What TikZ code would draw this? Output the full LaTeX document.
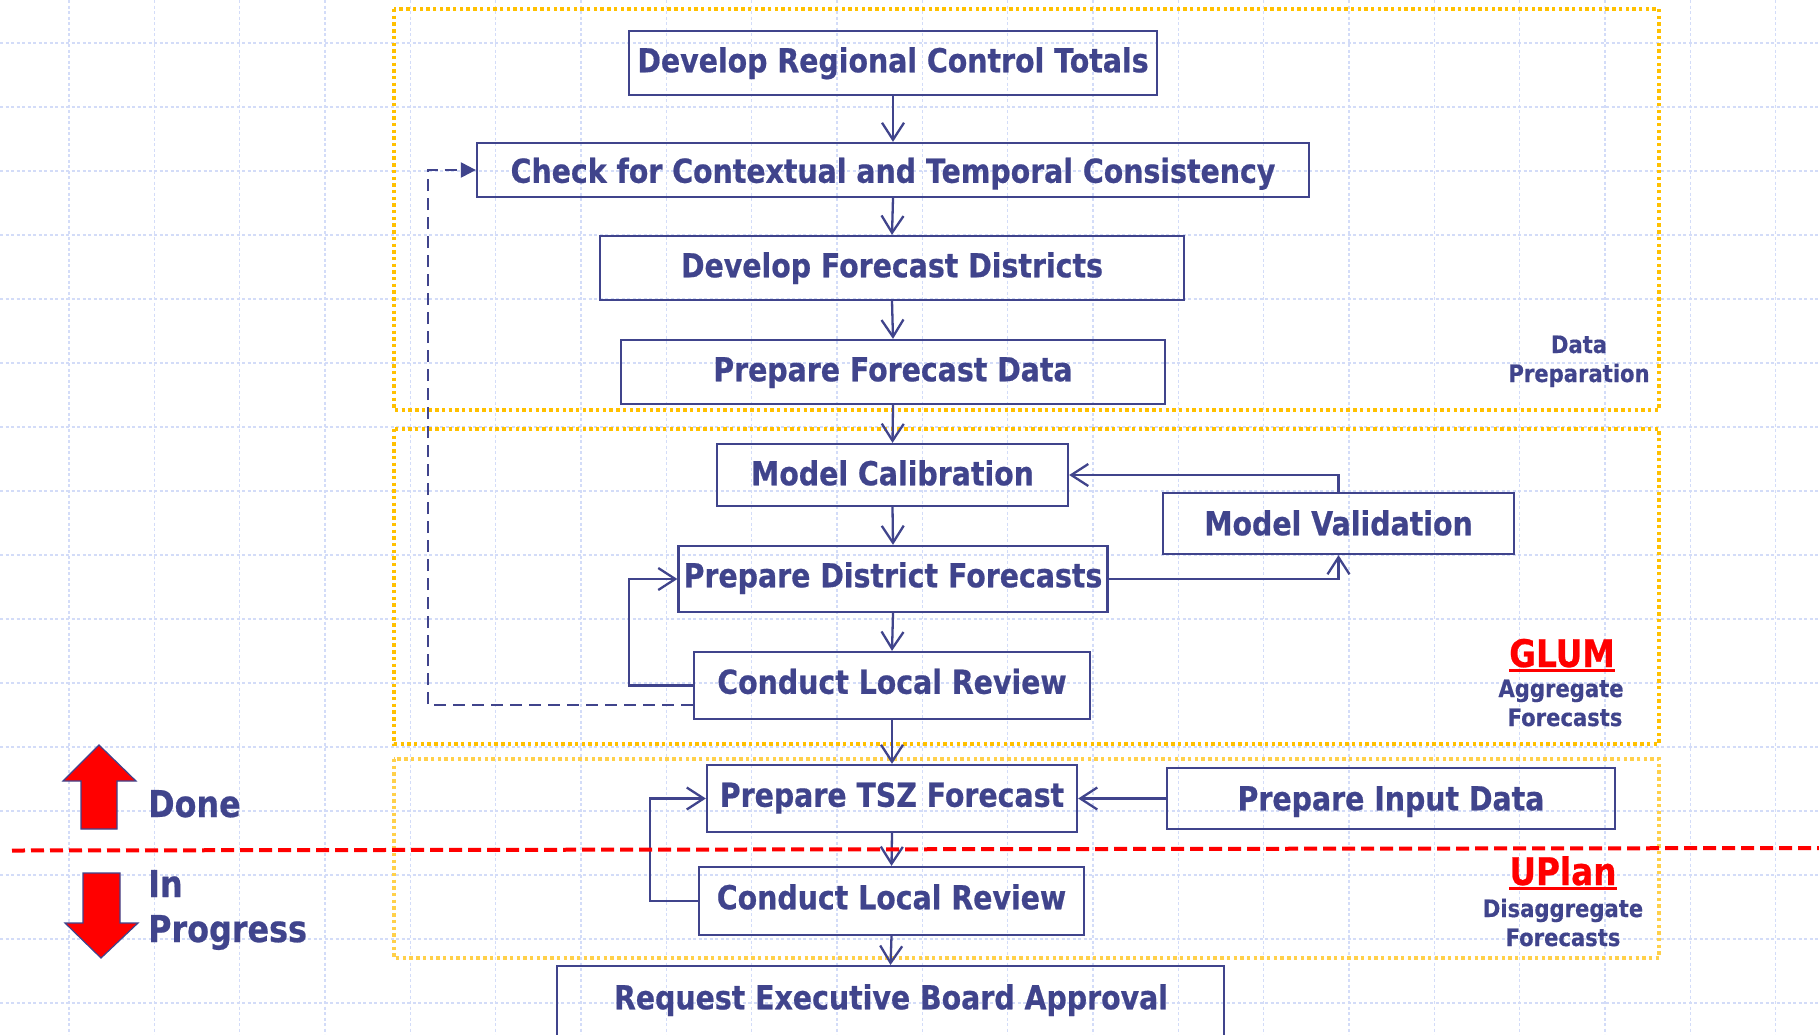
\documentclass[tikz,border=0pt]{standalone}
\usepackage{fontspec}
\newfontfamily\tah{DejaVu Sans}[FakeStretch=0.86, FakeBold=0.6]
\newfontfamily\tahs{DejaVu Sans}[FakeStretch=0.88, FakeBold=0.4]
\usetikzlibrary{arrows.meta,calc}
\definecolor{ink}{HTML}{40448C}
\definecolor{gridc}{HTML}{D3DCF8}
\definecolor{gold}{HTML}{FFC000}
\definecolor{goldl}{HTML}{FFD04A}
\definecolor{redc}{HTML}{FF0000}
\tikzset{
  box/.style={draw=ink, line width=2.3, inner sep=0, text=ink, text height=24, text depth=7.5,
    font=\tah\bfseries\fontsize{33}{39}\selectfont},
  flow/.style={draw=ink, line width=2.3, -{Straight Barb[length=17,width=22]}},
  dflow/.style={draw=ink, line width=2.3, dash pattern=on 12 off 7, -{Triangle[length=15,width=15]}},
  lab/.style={text=ink, inner sep=0, font=\tahs\bfseries\fontsize{24}{29}\selectfont},
  biglab/.style={text=ink, inner sep=0, font=\tah\bfseries\fontsize{37}{45}\selectfont},
  redlab/.style={text=redc, inner sep=0, font=\tah\bfseries\fontsize{38}{44}\selectfont},
  gridline/.style={draw=gridc, line width=1.2, dash pattern=on 3 off 2.5},
  group/.style={draw=gold, line width=3.6, dash pattern=on 3.4 off 3.3},
  bigarrow/.style={fill=redc, draw=ink, line width=1.2, line join=miter},
}
\begin{document}
\begin{tikzpicture}[x=1pt,y=-1pt]
\useasboundingbox (0,0) rectangle (1819,1034);
\fill[white] (0,0) rectangle (1819,1034);
% background grid
\foreach \k in {0,...,20} {\draw[gridline] ({69+85.33*\k},0) -- ({69+85.33*\k},1034);}
\foreach \k in {0,...,15} {\draw[gridline] (0,{43+64*\k}) -- (1819,{43+64*\k});}
% group frames
\draw[group] (394,9) rectangle (1659,410);
\draw[group] (394,429) rectangle (1659,744);
\draw[group, draw=goldl] (394,759) rectangle (1659,958);
% boxes
\node[box, text height=26, minimum width=528, minimum height=64] (drct) at (893,63) {Develop Regional Control Totals};
\node[box, text height=33, minimum width=832, minimum height=54] (chk) at (893,170) {Check for Contextual and Temporal Consistency};
\node[box, text height=26, minimum width=584, minimum height=64] (dfd) at (892,268) {Develop Forecast Districts};
\node[box, text height=26, minimum width=544, minimum height=64] (pfd) at (893,372) {Prepare Forecast Data};
\node[box, text height=28, minimum width=351, minimum height=62] (mcal) at (892.5,475) {Model Calibration};
\node[box, text height=31, minimum width=351, minimum height=61] (mval) at (1338.5,523.5) {Model Validation};
\node[box, minimum width=429, minimum height=66] (pdf) at (893,579) {Prepare District Forecasts};
\node[box, minimum width=396, minimum height=67] (clr1) at (892,685.5) {Conduct Local Review};
\node[box, minimum width=370, minimum height=67] (tsz) at (892,798.5) {Prepare TSZ Forecast};
\node[box, text height=31, minimum width=448, minimum height=61] (pid) at (1391,798.5) {Prepare Input Data};
\node[box, minimum width=385, minimum height=68] (clr2) at (891.5,901) {Conduct Local Review};
\node[box, anchor=north, minimum width=667, minimum height=110] (reba) at (890.5,965) {};
\node[box, draw=none] (rebat) at (891,1001) {Request Executive Board Approval};
% connectors
\draw[flow] (drct.south) -- (chk.north);
\draw[flow] (chk.south) -- (dfd.north);
\draw[flow] (dfd.south) -- (pfd.north);
\draw[flow] (pfd.south) -- (mcal.north);
\draw[flow] (mcal.south) -- (pdf.north);
\draw[flow] (pdf.south) -- (clr1.north);
\draw[flow] (clr1.south) -- (tsz.north);
\draw[flow] (tsz.south) -- (clr2.north);
\draw[flow] (clr2.south) -- (reba.north);
\draw[flow] (mval.north) |- (mcal.east);
\draw[flow] (pdf.east) -| (mval.south);
\draw[flow] (clr1.west) -- ++(-64,0) |- (pdf.west);
\draw[flow] (pid.west) -- (tsz.east);
\draw[flow] (clr2.west) -- ++(-48,0) |- (tsz.west);
\draw[dflow] ([yshift=15pt]clr1.south west) -- ++(-265,0) |- (chk.west);
% group labels
\node[lab, anchor=base] (dp1) at (1579,353) {Data};
\node[lab, anchor=base] (dp2) at (1579,382) {Preparation};
\node[redlab, anchor=base] (glum) at (1562,667) {GLUM};
\draw[redc, line width=3.2] ($(glum.base west)+(0,3.5)$) -- ($(glum.base east)+(0,3.5)$);
\node[lab, anchor=base] (ag1) at (1561,697) {Aggregate};
\node[lab, anchor=base] (ag2) at (1565,726) {Forecasts};
\node[redlab, anchor=base] (uplan) at (1563,885) {UPlan};
\draw[redc, line width=3.2] ($(uplan.base west)+(0,3.5)$) -- ($(uplan.base east)+(0,3.5)$);
\node[lab, anchor=base] (dg1) at (1563,917) {Disaggregate};
\node[lab, anchor=base] (dg2) at (1563,946) {Forecasts};
% done / in progress
\draw[redc, line width=4, dash pattern=on 13 off 6] (12,850.5) -- (1819,848);
\draw[bigarrow] (99,745) -- (63,781) -- (81,781) -- (81,829) -- (117,829) -- (117,781) -- (136,781) -- cycle;
\draw[bigarrow] (101,958) -- (65,923) -- (83,923) -- (83,873) -- (120,873) -- (120,923) -- (138,923) -- cycle;
\node[biglab, anchor=base west] (done) at (148,817) {Done};
\node[biglab, anchor=base west] (inp1) at (148,897) {In};
\node[biglab, anchor=base west] (inp2) at (148,942) {Progress};
\end{tikzpicture}
\end{document}
